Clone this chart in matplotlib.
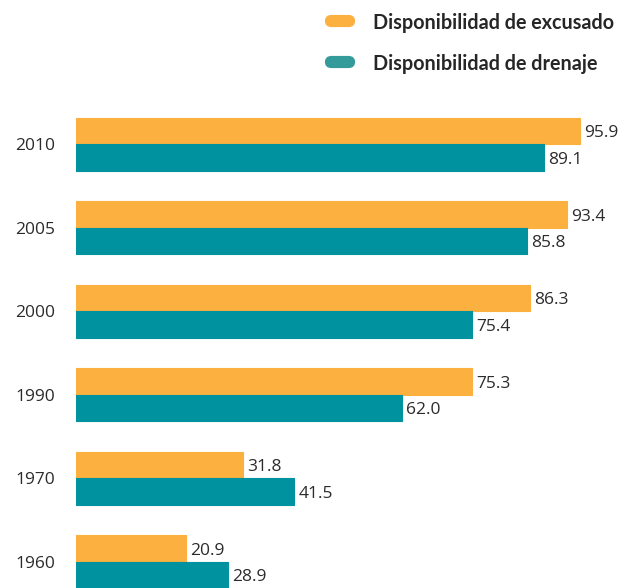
import matplotlib
matplotlib.use("Agg")
import matplotlib.pyplot as plt
from matplotlib.patches import FancyBboxPatch

years = ["2010", "2005", "2000", "1990", "1970", "1960"]
excusado = [95.9, 93.4, 86.3, 75.3, 31.8, 20.9]
drenaje = [89.1, 85.8, 75.4, 62.0, 41.5, 28.9]
series_names = ["Disponibilidad de excusado", "Disponibilidad de drenaje"]
c_orange = "#FBB040"
c_teal = "#00929F"
c_teal_leg = "#359B9A"

W, H = 631, 588
fig = plt.figure(figsize=(W / 100, H / 100), dpi=100)
fig.patch.set_facecolor("white")
left_px = 76
first_c, step = 144.3, 83.5
ax = fig.add_axes([left_px / W, 0, (W - left_px) / W, 1])
ax.set_xlim(0, (W - left_px) / 5.255)
ax.set_ylim((H - first_c) / step, -first_c / step)
ax.axis("off")

bh = 26.5 / step
off = bh / 2
font = "Open Sans"
fs = 12.5
for i, (y, a, b) in enumerate(zip(years, excusado, drenaje)):
    ax.barh(i - off, a, height=bh, color=c_orange, edgecolor=c_orange,
            linewidth=0.8, joinstyle="round")
    ax.barh(i + off, b, height=bh, color=c_teal, edgecolor=c_teal,
            linewidth=0.8, joinstyle="round")
    ax.annotate(f"{a:.1f}", (a, i - off), xytext=(3, 0), textcoords="offset points",
                va="center_baseline", ha="left", fontsize=fs, family=font, color="#2b2b2b")
    ax.annotate(f"{b:.1f}", (b, i + off), xytext=(3, 0), textcoords="offset points",
                va="center_baseline", ha="left", fontsize=fs, family=font, color="#2b2b2b")
    ax.annotate(y, (0, i), xytext=(-15, 0), textcoords="offset points",
                va="center_baseline", ha="right", fontsize=fs, family=font, color="#2b2b2b")

# legend
for k, (name, col, yp) in enumerate(zip(series_names, [c_orange, c_teal_leg], [21, 62])):
    fig.patches.append(FancyBboxPatch(((323 + 4) / W, (H - yp - 4) / H), 26 / W, 8 / H,
                                      boxstyle="round,pad=0,rounding_size=0.007",
                                      transform=fig.transFigure, facecolor=col,
                                      edgecolor=col, linewidth=3))
    fig.text(373 / W, (H - yp) / H, name, ha="left", va="center_baseline", fontsize=14.2,
             fontweight="bold", family="Lato", color="#262626")

fig.savefig("out.png", dpi=100)
